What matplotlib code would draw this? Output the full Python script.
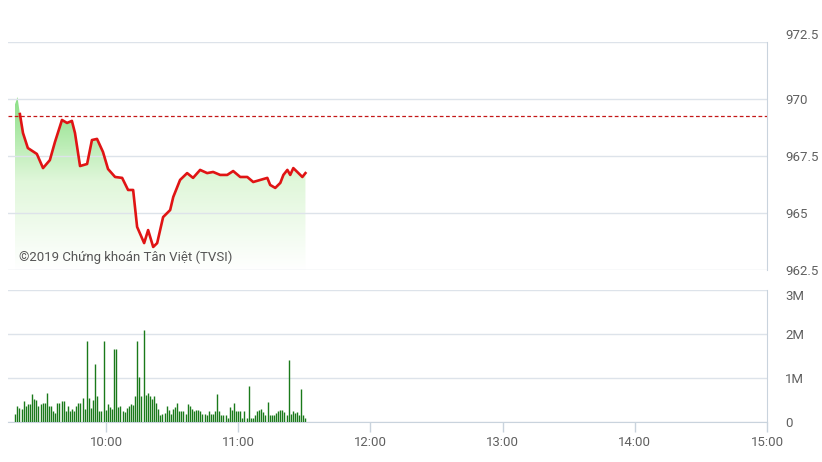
import numpy as np
import matplotlib
matplotlib.use("Agg")
import matplotlib.pyplot as plt
from matplotlib.colors import LinearSegmentedColormap

plt.rcParams['font.family'] = ['Roboto', 'DejaVu Sans']

# gia chi so theo thoi gian (phut tinh tu 09:00)
price_min = [18.6, 19.8, 20.9, 22.3, 24.5, 28.6, 31.4, 34.5, 36.8, 40.0,
             42.3, 44.5, 45.9, 48.2, 51.4, 53.6, 55.9, 58.6, 60.9, 64.1,
             67.3, 70.0, 72.3, 74.1, 77.3, 79.1, 81.4, 83.2, 85.9, 89.1,
             90.5, 93.6, 96.8, 99.5, 102.7, 105.9, 108.6, 111.8, 115.0, 117.7,
             120.9, 124.1, 126.8, 130.0, 133.2, 134.5, 136.8, 139.1, 140.5, 142.3,
             143.6, 145.0, 146.8, 149.1, 150.5]
price = [969.74, 970.09, 969.34, 968.51, 967.85, 967.59, 966.97, 967.32, 968.11, 969.08,
         968.95, 969.04, 968.51, 967.06, 967.15, 968.20, 968.25, 967.68, 966.93, 966.58,
         966.54, 966.01, 966.01, 964.39, 963.68, 964.25, 963.51, 963.68, 964.82, 965.13,
         965.70, 966.45, 966.75, 966.54, 966.89, 966.75, 966.80, 966.67, 966.67, 966.84,
         966.58, 966.58, 966.36, 966.45, 966.54, 966.23, 966.10, 966.32, 966.67, 966.89,
         966.67, 966.97, 966.80, 966.58, 966.75]
ref_price = 969.27

# khoi luong (trieu cp), moi nen ~1 phut
vol_start, vol_end = 18.8, 150.5
volume = [0.19, 0.37, 0.31, 0.30, 0.48, 0.37, 0.41, 0.41, 0.64, 0.52,
          0.50, 0.37, 0.41, 0.43, 0.43, 0.66, 0.37, 0.37, 0.26, 0.21,
          0.43, 0.43, 0.48, 0.48, 0.26, 0.37, 0.26, 0.30, 0.26, 0.37,
          0.43, 0.43, 0.54, 0.30, 1.84, 0.54, 0.31, 0.51, 1.31, 0.58,
          0.26, 0.26, 1.83, 0.28, 0.41, 0.34, 0.30, 1.65, 1.65, 0.34,
          0.37, 0.26, 0.22, 0.31, 0.37, 0.41, 0.39, 0.58, 1.83, 1.03,
          0.58, 2.08, 0.61, 0.66, 0.58, 0.52, 0.60, 0.43, 0.30, 0.15,
          0.19, 0.21, 0.36, 0.28, 0.19, 0.30, 0.34, 0.43, 0.26, 0.26,
          0.26, 0.19, 0.41, 0.37, 0.30, 0.26, 0.28, 0.28, 0.26, 0.19,
          0.19, 0.16, 0.26, 0.19, 0.19, 0.25, 0.64, 0.26, 0.15, 0.16,
          0.16, 0.09, 0.35, 0.28, 0.43, 0.25, 0.26, 0.26, 0.09, 0.24,
          0.09, 0.82, 0.09, 0.09, 0.15, 0.24, 0.28, 0.30, 0.22, 0.16,
          0.46, 0.16, 0.16, 0.16, 0.21, 0.25, 0.28, 0.28, 0.22, 0.16,
          1.42, 0.19, 0.25, 0.20, 0.22, 0.16, 0.76, 0.16, 0.09]

price_ticks = [962.5, 965, 967.5, 970, 972.5]
price_labels = ['962.5', '965', '967.5', '970', '972.5']
vol_ticks = [0, 1, 2, 3]
vol_labels = ['0', '1M', '2M', '3M']
time_ticks = [60, 120, 180, 240, 300, 360]
time_labels = ['10:00', '11:00', '12:00', '13:00', '14:00', '15:00']

GRID = '#dde3ea'
AXC = '#c9d3dd'
TXT = '#606060'

W, H = 822, 462
fig = plt.figure(figsize=(W / 100, H / 100), dpi=100)
ax = fig.add_axes([8 / W, 1 - 270 / H, 759 / W, 228 / H])
axv = fig.add_axes([8 / W, 1 - 422 / H, 759 / W, 132 / H])

x0, x1 = 15.5, 360

# ---- bieu do gia ----
ax.set_xlim(x0, x1)
ax.set_ylim(962.5, 972.5)
poly = ax.fill_between(price_min, price, 962.5, color='none', lw=0)
cmap = LinearSegmentedColormap.from_list('g', ['#ffffff', '#e0f7da', '#86de80'])
grad = np.linspace(0, 1, 256).reshape(-1, 1)
im = ax.imshow(grad, cmap=cmap, aspect='auto', origin='lower',
               extent=[price_min[0], price_min[-1], 962.5, 970.3], zorder=1)
im.set_clip_path(poly.get_paths()[0], transform=ax.transData)
ax.plot(price_min[2:], price[2:], color='#e01414', lw=1.9, zorder=4,
        solid_joinstyle='round')
ax.axhline(ref_price, color='#c41818', lw=0.9, ls=(0, (3, 2)), zorder=3)

ax.set_yticks(price_ticks)
ax.set_yticklabels(price_labels)
ax.set_xticks([])
ax.yaxis.tick_right()
ax.tick_params(axis='y', length=0, pad=13, labelsize=9.5, labelcolor=TXT)
ax.grid(axis='y', color=GRID, lw=1)
for s in ['top', 'left', 'bottom']:
    ax.spines[s].set_visible(False)
ax.spines['right'].set_color(AXC)
for lab in ax.get_yticklabels():
    if lab.get_text() == '972.5':
        lab.set_verticalalignment('bottom')

ax.text(20.5, 962.9, '\u00a92019 Chứng khoán Tân Việt (TVSI)', fontsize=9.5,
        color='#555555', zorder=5)

# ---- khoi luong ----
n = len(volume)
vol_min = vol_start + np.arange(n) * (vol_end - vol_start) / (n - 1)
axv.vlines(vol_min, 0, volume, colors='#1a7a1a', lw=1.0, zorder=3)
axv.set_xlim(x0, x1)
axv.set_ylim(0, 3)
axv.set_yticks(vol_ticks)
axv.set_yticklabels(vol_labels)
axv.yaxis.tick_right()
axv.tick_params(axis='y', length=0, pad=13, labelsize=9.5, labelcolor=TXT)
axv.set_xticks(time_ticks)
axv.set_xticklabels(time_labels)
axv.tick_params(axis='x', length=7, width=1, color=AXC, labelsize=9.5,
                labelcolor=TXT, pad=3)
axv.grid(axis='y', color=GRID, lw=1)
for s in ['top', 'left']:
    axv.spines[s].set_visible(False)
axv.spines['right'].set_color(AXC)
axv.spines['bottom'].set_color(AXC)
for lab in axv.get_yticklabels():
    if lab.get_text() == '3M':
        lab.set_verticalalignment('top')

fig.savefig('out.png', dpi=100)
